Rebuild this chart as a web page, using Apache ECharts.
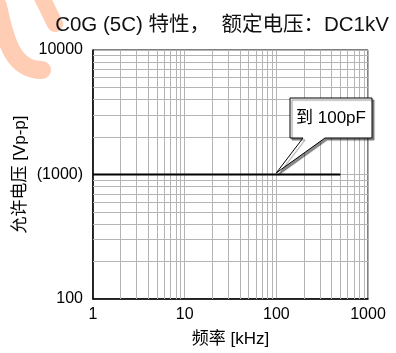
<!DOCTYPE html>
<html>
<head>
<meta charset="utf-8">
<script src="https://cdn.jsdelivr.net/npm/echarts@6/dist/echarts.min.js"></script>
<style>
  html, body { margin: 0; padding: 0; background: #fff; }
  #main { width: 396px; height: 353px; }
</style>
</head>
<body>
<div id="main"></div>
<script>
// 数据
const freq = [1, 500];            // kHz
const voltage = [1000, 1000];     // Vp-p
const xTickLabels = { 1: '1', 10: '10', 100: '100', 1000: '1000' };
const yTickLabels = { 100: '100', 1000: '(1000)', 10000: '10000' };
const calloutText = '到 100pF';
const calloutAt = [100, 1030];

// 对数网格的次刻度线 (2..9 每个十倍程)
function minorLines(from, to) {
  let arr = [];
  for (let d = from; d < to; d *= 10) {
    for (let k = 2; k <= 9; k++) arr.push(d * k);
  }
  return arr;
}
const xMinor = minorLines(1, 1000);
const yMinor = minorLines(100, 10000);

const font = '"Liberation Sans", Arial, "Noto Sans CJK SC", sans-serif';
const gridColor = '#b4b4b4';

const chart = echarts.init(document.getElementById('main'), null, { renderer: 'canvas' });

const option = {
  animation: false,
  backgroundColor: '#fff',
  textStyle: { fontFamily: font, color: '#000' },
  title: {
    text: 'C0G (5C) 特性，  额定电压：DC1kV',
    left: 217,
    textAlign: 'center',
    top: 10,
    textStyle: { fontFamily: font, fontSize: 20.5, fontWeight: 'normal', color: '#111' }
  },
  grid: {
    left: 93, right: 28, top: 50, bottom: 50,
    show: true, borderColor: '#000', borderWidth: 1
  },
  xAxis: {
    type: 'log', logBase: 10, min: 1, max: 1000,
    name: '频率 [kHz]',
    nameLocation: 'middle',
    nameGap: 32,
    nameMoveOverlap: false,
    nameTextStyle: { fontFamily: font, fontSize: 17, color: '#000' },
    axisLine: { lineStyle: { color: '#000', width: 1.5 } },
    axisTick: { show: false },
    axisLabel: {
      fontFamily: font, fontSize: 16, color: '#000', margin: 8,
      formatter: v => xTickLabels[Math.round(v)] || ''
    },
    splitLine: { show: true, lineStyle: { color: gridColor, width: 1 } }
  },
  yAxis: {
    type: 'log', logBase: 10, min: 100, max: 10000,
    name: '允许电压 [Vp-p]',
    nameLocation: 'middle',
    nameGap: 64,
    nameMoveOverlap: false,
    nameTextStyle: { fontFamily: font, fontSize: 17, color: '#000' },
    axisLine: { lineStyle: { color: '#000', width: 1.5 } },
    axisTick: { show: false },
    axisLabel: {
      fontFamily: font, fontSize: 16, color: '#000', margin: 10,
      formatter: v => yTickLabels[Math.round(v)] || ''
    },
    splitLine: { show: true, lineStyle: { color: gridColor, width: 1 } }
  },
  series: [
    {
      // 次网格线
      type: 'line',
      data: [],
      z: 1,
      silent: true,
      markLine: {
        silent: true,
        symbol: 'none',
        label: { show: false },
        lineStyle: { color: gridColor, width: 1, type: 'solid' },
        data: xMinor.map(v => ({ xAxis: v })).concat(yMinor.map(v => ({ yAxis: v })))
      }
    },
    {
      type: 'line',
      data: freq.map((f, i) => [f, voltage[i]]),
      z: 5,
      symbol: 'none',
      lineStyle: { color: '#000', width: 2 }
    }
  ]
};
chart.setOption(option);

// 标注框 (指向 100kHz 处)
const tip = chart.convertToPixel({ gridIndex: 0 }, calloutAt);
const bx = 290, by = 98, bw = 82, bh = 40;
const shape = [
  [bx, by], [bx + bw, by], [bx + bw, by + bh], [bx + 35, by + bh],
  tip, [bx + 13, by + bh], [bx, by + bh]
];
chart.setOption({
  graphic: [
    // 水印
    {
      type: 'bezierCurve', z: 0, silent: true,
      shape: { x1: -2, y1: 6, x2: 42, y2: 70, cpx1: 6, cpy1: 44, cpx2: 14, cpy2: 70 },
      style: { stroke: '#ffcdb3', lineWidth: 18, fill: null, lineCap: 'round' }
    },
    {
      type: 'bezierCurve', z: 0, silent: true,
      shape: { x1: 40, y1: -6, x2: 55, y2: 24, cpx1: 46, cpy1: 5, cpx2: 50, cpy2: 14 },
      style: { stroke: '#ffcdb3', lineWidth: 16, fill: null, lineCap: 'round' }
    },
    {
      type: 'polygon', z: 100,
      shape: { points: shape },
      style: {
        fill: '#fff', stroke: '#000', lineWidth: 1,
        shadowColor: 'rgba(0,0,0,0.45)', shadowOffsetX: 2, shadowOffsetY: 2, shadowBlur: 1
      }
    },
    {
      type: 'text', z: 101,
      x: bx + bw / 2, y: by + bh / 2,
      style: {
        text: calloutText, fontFamily: font, fontSize: 17, fill: '#000',
        align: 'center', verticalAlign: 'middle'
      }
    }
  ]
});
</script>
</body>
</html>
